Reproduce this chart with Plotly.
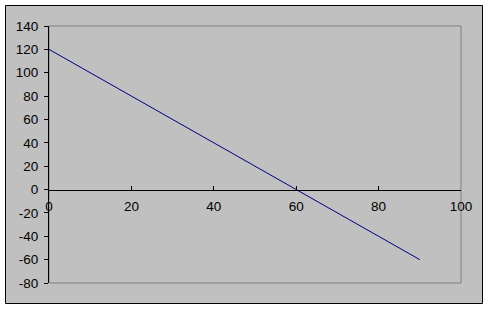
import plotly.graph_objects as go

x_values = [0, 10, 20, 30, 40, 50, 60, 70, 80, 90]
y_values = [120, 100, 80, 60, 40, 20, 0, -20, -40, -60]
x_ticks = [0, 20, 40, 60, 80, 100]
y_ticks = [-80, -60, -40, -20, 0, 20, 40, 60, 80, 100, 120, 140]

W, H = 489, 310
L, R, T, B = 49, 461, 26, 283
pw, ph = R - L, B - T

def px(xp):
    return (xp - L) / pw

def py(yp):
    return (B - yp) / ph

fig = go.Figure()
fig.add_trace(go.Scatter(x=x_values, y=y_values, mode="lines",
                         line=dict(color="#000080", width=1), hoverinfo="skip"))

fig.add_shape(type="rect", xref="paper", yref="paper",
              x0=px(5.5), x1=px(482.5), y0=py(303.5), y1=py(5.5),
              fillcolor="#C0C0C0", line=dict(color="black", width=1), layer="below")
fig.add_shape(type="rect", xref="paper", yref="paper",
              x0=0, x1=1, y0=0, y1=1,
              fillcolor="rgba(0,0,0,0)", line=dict(color="#808080", width=1), layer="below")

font = dict(family="Liberation Sans, Arial, sans-serif", size=13.5, color="black")

fig.update_layout(
    width=W, height=H,
    margin=dict(l=L, r=W - R, t=T, b=H - B, pad=0),
    paper_bgcolor="white", plot_bgcolor="#C0C0C0",
    showlegend=False,
    font=font,
    xaxis=dict(range=[0, 100], tickvals=x_ticks, ticktext=[str(v) for v in x_ticks],
               showgrid=False, zeroline=False, showline=True, linecolor="black", linewidth=1,
               ticks="inside", ticklen=4, tickcolor="black", ticklabelstandoff=4,
               anchor="free", position=(0 - (-80)) / 220, tickfont=font),
    yaxis=dict(range=[-80, 140], tickvals=y_ticks, ticktext=[str(v) for v in y_ticks],
               showgrid=False, zeroline=False, showline=True, linecolor="black", linewidth=1,
               ticks="outside", ticklen=4, tickcolor="black", ticklabelstandoff=3,
               tickfont=font),
)

fig.write_html("out.html")
